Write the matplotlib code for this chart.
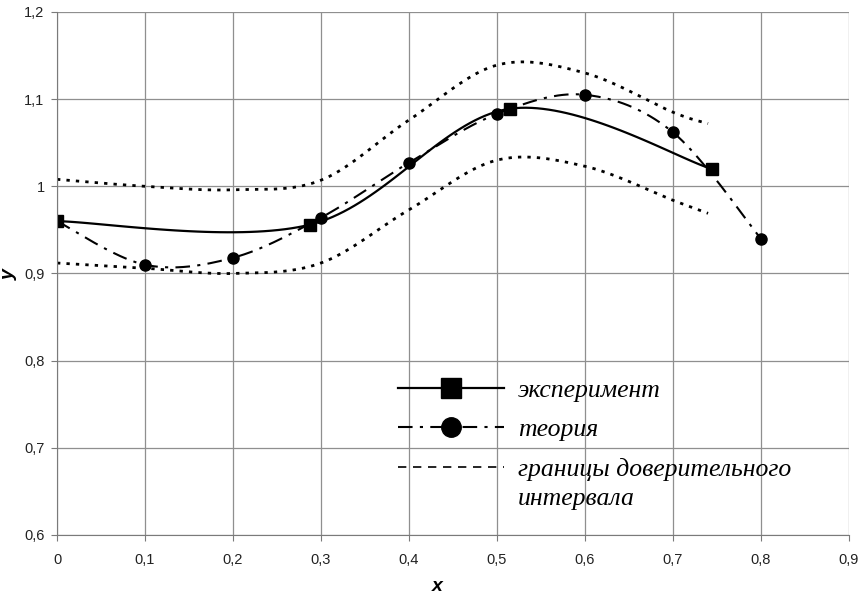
import numpy as np
import matplotlib.pyplot as plt
from matplotlib.lines import Line2D
from matplotlib.ticker import FuncFormatter, MultipleLocator

# experiment points
exp_x = [0.0, 0.2875, 0.515, 0.744]
exp_y = [0.960, 0.956, 1.089, 1.020]

# theory points
th_x = [0.0, 0.1, 0.2, 0.3, 0.4, 0.5, 0.6, 0.7, 0.8]
th_y = [0.960, 0.910, 0.918, 0.964, 1.027, 1.083, 1.105, 1.062, 0.940]

# confidence interval bounds
ci_x = [0.0, 0.1, 0.2, 0.3, 0.4, 0.5, 0.6, 0.7, 0.74]
ci_upper = [1.008, 1.000, 0.996, 1.007, 1.076, 1.139, 1.130, 1.085, 1.072]
ci_lower = [0.912, 0.906, 0.900, 0.912, 0.973, 1.030, 1.023, 0.984, 0.969]

labels = ['эксперимент', 'теория', 'границы доверительного']
label_tail = 'интервала'


def smooth(xs, ys, n=40):
    # Excel-like smoothed line (Catmull-Rom through Bezier segments)
    P = np.column_stack([xs, ys])
    out = []
    for i in range(len(P) - 1):
        p0 = P[i - 1] if i > 0 else P[i]
        p1, p2 = P[i], P[i + 1]
        p3 = P[i + 2] if i + 2 < len(P) else P[i + 1]
        c1 = p1 + (p2 - p0) / 6
        c2 = p2 - (p3 - p1) / 6
        t = np.linspace(0, 1, n)[:, None]
        out.append((1 - t) ** 3 * p1 + 3 * (1 - t) ** 2 * t * c1
                   + 3 * (1 - t) * t ** 2 * c2 + t ** 3 * p2)
    return np.vstack(out)


fig = plt.figure(figsize=(8.6, 5.98), dpi=100)
ax = fig.add_axes([0.0663, 0.1054, 0.9207, 0.8746])

dotted = (0, (1.2, 2.2))
dashdot = (0, (7, 3.5, 1.5, 3.5))

for b in (ci_upper, ci_lower):
    s = smooth(ci_x, b)
    ax.plot(s[:, 0], s[:, 1], color='black', lw=2, linestyle=dotted)

s = smooth(th_x, th_y)
ax.plot(s[:, 0], s[:, 1], color='black', lw=1.5, linestyle=dashdot)
ax.plot(th_x[1:], th_y[1:], 'o', color='black', ms=8)

s = smooth(exp_x, exp_y)
ax.plot(s[:, 0], s[:, 1], color='black', lw=1.6)
ax.plot(exp_x, exp_y, 's', color='black', ms=8.5)

ax.set_xlim(0, 0.9)
ax.set_ylim(0.6, 1.2)
ax.xaxis.set_major_locator(MultipleLocator(0.1))
ax.yaxis.set_major_locator(MultipleLocator(0.1))
fmt = FuncFormatter(lambda v, p: ('%g' % round(v, 2)).replace('.', ','))
ax.xaxis.set_major_formatter(fmt)
ax.yaxis.set_major_formatter(fmt)
ax.grid(True, color='#8f8f8f', lw=0.9)
ax.set_axisbelow(True)
for side in ['top', 'right']:
    ax.spines[side].set_visible(False)
for side in ['left', 'bottom']:
    ax.spines[side].set_color('#7a7a7a')
ax.tick_params(colors='#7a7a7a', labelcolor='#222222', length=4,
               labelsize=10.5, pad=5)
for lab in ax.get_xticklabels() + ax.get_yticklabels():
    lab.set_family('Liberation Sans')
ax.tick_params(axis='x', pad=9)

ax.set_xlabel('x', fontsize=14, fontweight='bold', fontstyle='italic',
              family='Liberation Sans')
ax.set_ylabel('y', fontsize=14, fontweight='bold', fontstyle='italic',
              family='Liberation Sans')
ax.xaxis.set_label_coords(0.48, -0.082)
ax.yaxis.set_label_coords(-0.05, 0.497)

font = {'family': 'Liberation Serif', 'style': 'italic', 'size': 18.5}
handles = [
    Line2D([0], [0], color='black', lw=1.6, marker='s', ms=15),
    Line2D([0], [0], color='black', lw=1.5, linestyle=dashdot, marker='o', ms=14),
    Line2D([0], [0], color='black', lw=1.2, linestyle=(0, (5, 4))),
]
leg = ax.legend(handles, labels, loc='upper left', bbox_to_anchor=(0.402, 0.343),
                frameon=False, handlelength=4.1, handletextpad=0.55,
                labelspacing=0.65, prop=font)

# second line of the last label, placed under the first one
fig.canvas.draw()
bb = leg.get_texts()[2].get_window_extent()
fig.text(bb.x0 / fig.bbox.width, (bb.y0 - 29) / fig.bbox.height, label_tail,
         ha='left', va='bottom', **font)

fig.savefig('out.png', dpi=100)
